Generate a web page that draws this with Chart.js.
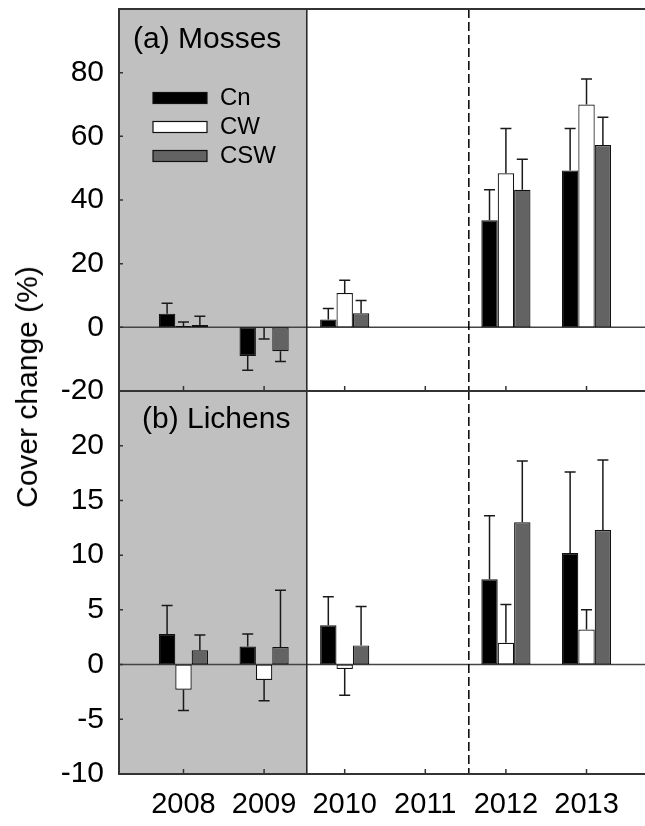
<!DOCTYPE html>
<html><head><meta charset="utf-8">
<script src="https://cdn.jsdelivr.net/npm/chart.js@4/dist/chart.umd.min.js"></script>
<style>
html,body{margin:0;padding:0;background:#fff;overflow:hidden;width:645px;height:826px;}
#wrap{position:relative;width:645px;height:826px;overflow:hidden;}
canvas{position:absolute;left:0;top:0;}
#ytitle{position:absolute;left:27px;top:387px;transform:translate(-50%,-50%) rotate(-90deg);font:30px 'Liberation Sans',Arial,sans-serif;white-space:nowrap;color:#000;}
</style></head><body>
<div id="wrap">
<canvas id="topChart" width="655" height="826"></canvas>
<canvas id="botChart" width="655" height="826"></canvas>
<div id="ytitle">Cover change (%)</div>
</div>
<script>
// ---- data ----
const years = ['2008','2009','2010','2011','2012','2013'];
const seriesNames = ['Cn','CW','CSW'];

const mossCn   = [4.3, -9.0, 2.5, null, 33.6, 49.3];
const mossCW   = [0.4, -0.2, 10.8, null, 48.4, 70.0];
const mossCSW  = [0.7, -7.5, 4.4, null, 43.2, 57.3];
const mossCnErr  = [3.3, 4.5, 3.4, null, 9.6, 13.2];
const mossCWErr  = [1.3, 3.5, 4.0, null, 14.1, 8.0];
const mossCSWErr = [2.8, 3.2, 4.0, null, 9.6, 8.7];

const lichCn   = [2.8, 1.65, 3.6, null, 7.8, 10.2];
const lichCW   = [-2.3, -1.4, -0.4, null, 2.0, 3.2];
const lichCSW  = [1.3, 1.6, 1.75, null, 13.0, 12.3];
const lichCnErr  = [2.6, 1.15, 2.6, null, 5.8, 7.4];
const lichCWErr  = [1.9, 1.9, 2.4, null, 3.5, 1.8];
const lichCSWErr = [1.4, 5.2, 3.55, null, 5.6, 6.4];

const mossTicks = [-20, 0, 20, 40, 60, 80];
const lichTicks = [-10, -5, 0, 5, 10, 15, 20];

// ---- styling ----
const FONT = "'Liberation Sans', Arial, sans-serif";
const fills = ['#000000', '#ffffff', '#636363'];
const LINE = '#333333';

function toXY(arr){ return arr.map((v,i)=>({x:i, y:v})); }

function makeDatasets(vals, errs){
  return vals.map((v,d)=>({
    label: seriesNames[d],
    data: toXY(v),
    errors: errs[d],
    backgroundColor: fills[d],
    borderColor: '#111',
    borderWidth: 1.2,
    borderSkipped: false,
    categoryPercentage: 0.61,
    barPercentage: 1.0
  }));
}

const panelPlugin = {
  id: 'panel',
  beforeDatasetsDraw(chart, args, o){
    const {ctx, chartArea:a, scales:{x, y}} = chart;
    ctx.save();
    const xs = x.getPixelForValue(o.shadeEnd);
    ctx.fillStyle = '#c0c0c0';
    ctx.fillRect(a.left, a.top, xs - a.left, a.bottom - a.top);
    // zero line
    const y0 = y.getPixelForValue(0);
    ctx.strokeStyle = '#444';
    ctx.lineWidth = 1.5;
    ctx.beginPath(); ctx.moveTo(a.left, y0); ctx.lineTo(a.right, y0); ctx.stroke();
    ctx.restore();
  },
  afterDatasetsDraw(chart, args, o){
    const {ctx, chartArea:a, scales:{x, y}} = chart;
    ctx.save();
    // error bars
    chart.data.datasets.forEach((ds, d)=>{
      const meta = chart.getDatasetMeta(d);
      ds.data.forEach((pt, i)=>{
        if (pt.y === null || ds.errors[i] === null) return;
        const el = meta.data[i];
        const sign = pt.y >= 0 ? 1 : -1;
        const y1 = y.getPixelForValue(pt.y);
        const y2 = y.getPixelForValue(pt.y + sign*ds.errors[i]);
        ctx.strokeStyle = '#1a1a1a';
        ctx.lineWidth = 1.5;
        ctx.beginPath();
        ctx.moveTo(el.x, y1); ctx.lineTo(el.x, y2);
        ctx.moveTo(el.x - 5.5, y2); ctx.lineTo(el.x + 5.5, y2);
        ctx.stroke();
      });
    });
    // vertical separators
    const xs = x.getPixelForValue(o.shadeEnd);
    ctx.strokeStyle = '#222';
    ctx.lineWidth = 1.5;
    ctx.beginPath(); ctx.moveTo(xs, a.top); ctx.lineTo(xs, a.bottom); ctx.stroke();
    const xd = x.getPixelForValue(o.dashAt);
    ctx.setLineDash([9,4]);
    ctx.strokeStyle = '#000';
    ctx.beginPath(); ctx.moveTo(xd, a.top); ctx.lineTo(xd, a.bottom); ctx.stroke();
    ctx.setLineDash([]);
    // frame
    ctx.strokeStyle = LINE;
    ctx.lineWidth = 2;
    ctx.beginPath();
    ctx.moveTo(a.right + 5, a.top); ctx.lineTo(a.left, a.top);
    ctx.lineTo(a.left, a.bottom); ctx.lineTo(a.right + 5, a.bottom);
    ctx.stroke();
    // inward ticks
    ctx.lineWidth = 1.5;
    ctx.beginPath();
    o.yTicks.forEach(v=>{
      const py = y.getPixelForValue(v);
      ctx.moveTo(a.left, py); ctx.lineTo(a.left + 4, py);
    });
    years.forEach((yr, i)=>{
      const px = x.getPixelForValue(i);
      ctx.moveTo(px, a.bottom); ctx.lineTo(px, a.bottom - 5);
    });
    ctx.stroke();
    // panel label
    ctx.fillStyle = '#000';
    ctx.font = '30px ' + FONT;
    ctx.textBaseline = 'middle';
    ctx.textAlign = 'left';
    ctx.fillText(o.label, a.left + o.labelDx, a.top + o.labelDy);
    // legend
    if (o.legend){
      ctx.font = '24px ' + FONT;
      chart.data.datasets.forEach((ds, d)=>{
        const cy = a.top + 89 + d*29;
        ctx.fillStyle = ds.backgroundColor;
        ctx.fillRect(a.left + 34, cy - 5.5, 54, 11);
        ctx.strokeStyle = '#111';
        ctx.lineWidth = 1.2;
        ctx.strokeRect(a.left + 34, cy - 5.5, 54, 11);
        ctx.fillStyle = '#000';
        ctx.fillText(ds.label, a.left + 101, cy);
      });
    }
    ctx.restore();
  }
};

function yScale(min, max, step, tickList){
  return {
    type: 'linear', min: min, max: max,
    afterBuildTicks(s){ s.ticks = tickList.map(v=>({value:v})); },
    ticks: { font: {size: 30, family: FONT}, color: '#000', padding: 15,
             callback: v => String(v) },
    grid: { display: false, drawTicks: false },
    border: { display: false },
    afterFit(s){ s.width = 119; s.paddingTop = 0; s.paddingBottom = 0; }
  };
}

function xScale(show){
  return {
    type: 'linear', min: -0.8, max: 5.8, offset: false,
    display: show,
    afterBuildTicks(s){ s.ticks = years.map((yr,i)=>({value:i})); },
    ticks: { font: {size: 29, family: FONT}, color: '#000', padding: 14,
             autoSkip: false, maxRotation: 0, callback: v => years[v] },
    grid: { display: false, drawTicks: false },
    border: { display: false },
    afterFit(s){ s.height = show ? 52 : 0; s.paddingLeft = 0; s.paddingRight = 0; }
  };
}

Chart.defaults.font.family = FONT;

new Chart(document.getElementById('topChart'), {
  type: 'bar',
  data: { datasets: makeDatasets([mossCn, mossCW, mossCSW], [mossCnErr, mossCWErr, mossCSWErr]) },
  options: {
    responsive: false, animation: false, devicePixelRatio: 1,
    layout: { padding: { top: 9, bottom: 435, left: 0, right: 4 } },
    scales: { x: xScale(false), y: yScale(-20, 100, 20, mossTicks) },
    plugins: {
      legend: { display: false }, tooltip: { enabled: false },
      panel: { shadeEnd: 1.53, dashAt: 3.54, yTicks: mossTicks, label: '(a) Mosses', labelDx: 14, labelDy: 31, legend: true }
    }
  },
  plugins: [panelPlugin]
});

new Chart(document.getElementById('botChart'), {
  type: 'bar',
  data: { datasets: makeDatasets([lichCn, lichCW, lichCSW], [lichCnErr, lichCWErr, lichCSWErr]) },
  options: {
    responsive: false, animation: false, devicePixelRatio: 1,
    layout: { padding: { top: 391, bottom: 0, left: 0, right: 4 } },
    scales: { x: xScale(true), y: yScale(-10, 25, 5, lichTicks) },
    plugins: {
      legend: { display: false }, tooltip: { enabled: false },
      panel: { shadeEnd: 1.53, dashAt: 3.54, yTicks: lichTicks, label: '(b) Lichens', labelDx: 23, labelDy: 29, legend: false }
    }
  },
  plugins: [panelPlugin]
});
</script>
</body></html>
